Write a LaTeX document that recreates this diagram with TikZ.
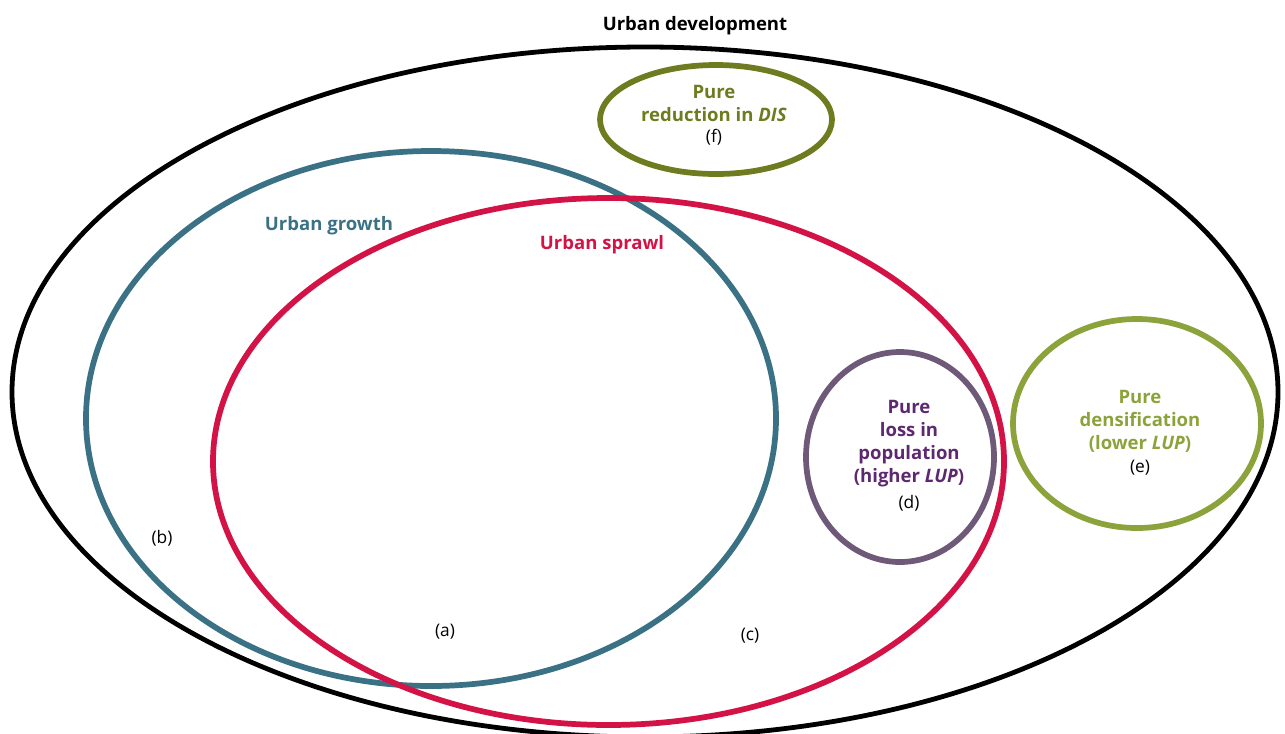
\documentclass[tikz,border=0pt]{standalone}
\usepackage{fontspec}
\setmainfont{Open Sans}
\usepackage{color}

\definecolor{growthblue}{HTML}{3A7185}
\definecolor{sprawlred}{HTML}{D31245}
\definecolor{disolive}{HTML}{6E7B1E}
\definecolor{lossframe}{HTML}{6E5A78}
\definecolor{losstext}{HTML}{5E2870}
\definecolor{densgreen}{HTML}{8CA33C}

\begin{document}
\begin{tikzpicture}[line cap=round,line join=round,x=0.75pt,y=-0.75pt,
    ring/.style={line width=4.3pt},
    title/.style={font=\fontsize{13.9}{17.25}\selectfont\bfseries,inner sep=0pt},
    letter/.style={font=\fontsize{13}{15}\selectfont,inner sep=0pt}]
    \useasboundingbox (0,0) rectangle (1285,733);
    % the sets
    \draw[ring,line width=3.6pt,color=black] (645,392) ellipse [x radius=633,y radius=345];
    \draw[ring,color=growthblue] (431,418.5) ellipse [x radius=345,y radius=267.5];
    \draw[ring,color=sprawlred] (608.5,461.5) ellipse [x radius=395.5,y radius=263.5];
    \draw[ring,color=disolive] (716,119.5) ellipse [x radius=116,y radius=54.5];
    \draw[ring,color=lossframe] (900,457) ellipse [x radius=94,y radius=105];
    \draw[ring,color=densgreen] (1137,423.5) ellipse [x radius=124,y radius=104.5];
    % set names
    \node[title,anchor=base] (development) at (695,30) {Urban development};
    \node[title,anchor=base,color=growthblue] (growth) at (329,230) {Urban growth};
    \node[title,anchor=base,color=sprawlred] (sprawl) at (602,249) {Urban sprawl};
    \node[title,align=center,color=disolive] (dis) at (714,103.5) {Pure\\reduction in \textit{DIS}};
    \node[title,align=center,color=losstext] (loss) at (909,444) {Pure\\loss in\\population\\(higher \textit{LUP})};
    \node[title,align=center,color=densgreen] (dens) at (1140,421) {Pure\\densification\\(lower \textit{LUP})};
    % letters
    \node[letter] (f) at (714,137) {(f)};
    \node[letter] (d) at (909,503) {(d)};
    \node[letter] (e) at (1140,468) {(e)};
    \node[letter] (a) at (445,632) {(a)};
    \node[letter] (b) at (162,538) {(b)};
    \node[letter] (c) at (750,636) {(c)};
\end{tikzpicture}
\end{document}
